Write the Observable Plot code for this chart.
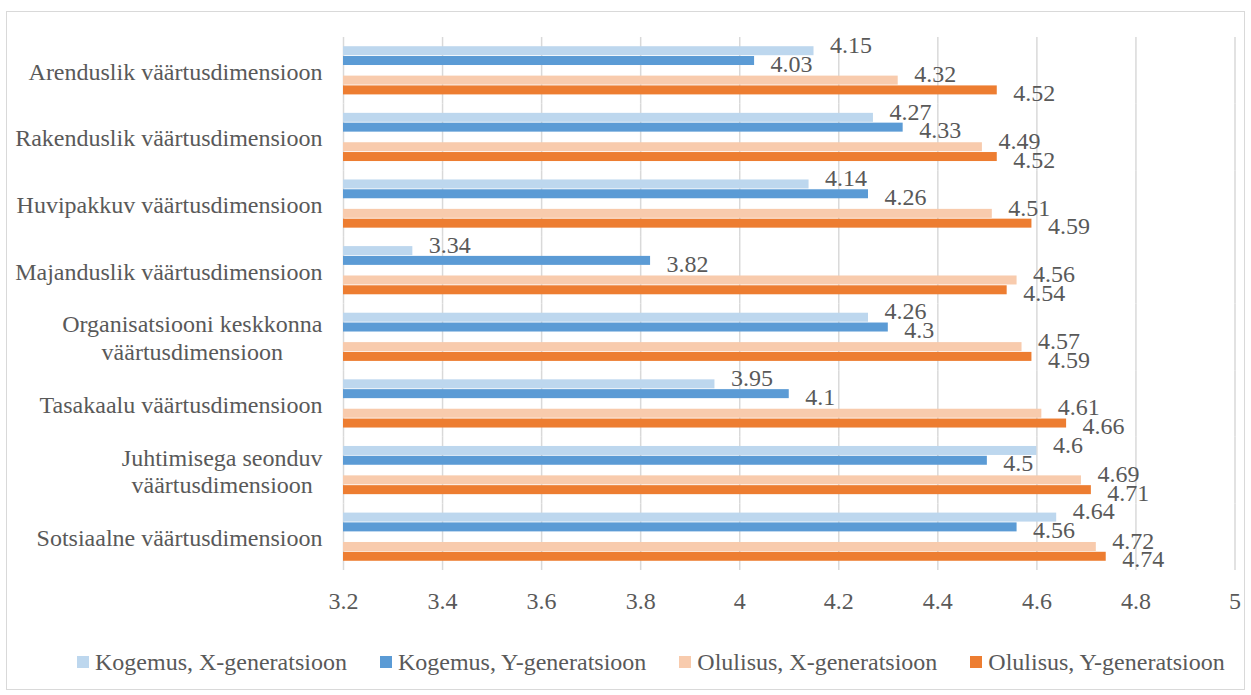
<!DOCTYPE html>
<html>
<head>
<meta charset="utf-8">
<script src="https://cdn.jsdelivr.net/npm/d3@7"></script>
<script src="https://cdn.jsdelivr.net/npm/@observablehq/plot@0.6"></script>
<style>
  html, body { margin: 0; padding: 0; background: #ffffff; }
  body { width: 1251px; height: 695px; position: relative; overflow: hidden;
         font-family: "Liberation Serif", "Times New Roman", serif; color: #595959; }
  #frame { position: absolute; left: 6px; top: 11px; width: 1239px; height: 679px;
           border: 1px solid #d9d9d9; box-sizing: border-box; }
  #chart { position: absolute; left: 0; top: 0; }
  #legend { position: absolute; left: 77px; top: 648px; display: flex; gap: 33px;
            font-size: 24px; line-height: 28px; white-space: nowrap; }
  .item { display: flex; align-items: center; }
  .swatch { width: 12px; height: 12px; margin-right: 6px; }
</style>
</head>
<body>
<div id="frame"></div>
<div id="chart"></div>
<div id="legend"></div>
<script>
// Value dimensions, top to bottom ("\n" marks a wrapped label)
const categories = [
  "Arenduslik väärtusdimensioon",
  "Rakenduslik väärtusdimensioon",
  "Huvipakkuv väärtusdimensioon",
  "Majanduslik väärtusdimensioon",
  "Organisatsiooni keskkonna\nväärtusdimensioon",
  "Tasakaalu väärtusdimensioon",
  "Juhtimisega seonduv\nväärtusdimensioon",
  "Sotsiaalne väärtusdimensioon"
];

const seriesNames = [
  "Kogemus, X-generatsioon",
  "Kogemus, Y-generatsioon",
  "Olulisus, X-generatsioon",
  "Olulisus, Y-generatsioon"
];

// Mean scores per dimension
const kogemusX  = [4.15, 4.27, 4.14, 3.34, 4.26, 3.95, 4.60, 4.64];
const kogemusY  = [4.03, 4.33, 4.26, 3.82, 4.30, 4.10, 4.50, 4.56];
const olulisusX = [4.32, 4.49, 4.51, 4.56, 4.57, 4.61, 4.69, 4.72];
const olulisusY = [4.52, 4.52, 4.59, 4.54, 4.59, 4.66, 4.71, 4.74];

const xTicks = [3.2, 3.4, 3.6, 3.8, 4, 4.2, 4.4, 4.6, 4.8, 5];

const seriesColors = ["#bdd7ee", "#5b9bd5", "#f8cbad", "#ed7d31"];

// Long table built from the series arrays
const seriesValues = [kogemusX, kogemusY, olulisusX, olulisusY];
const rows = [];
categories.forEach((c, i) => {
  seriesNames.forEach((s, j) => {
    rows.push({category: c, series: s, value: seriesValues[j][i], xGen: j % 2 === 0});
  });
});

const baseline = xTicks[0];
const textColor = "#595959";

const chart = Plot.plot({
  width: 1251,
  height: 620,
  marginLeft: 343,
  marginRight: 16.5,
  marginTop: 37,
  marginBottom: 50,
  style: {
    fontFamily: "'Liberation Serif', 'Times New Roman', serif",
    fontSize: "24px",
    color: textColor,
    background: "transparent",
    overflow: "visible"
  },
  x: {domain: [xTicks[0], xTicks[xTicks.length - 1]], axis: null},
  // an empty slot separates the Kogemus pair from the Olulisus pair
  y: {domain: [seriesNames[0], seriesNames[1], "", seriesNames[2], seriesNames[3]],
      paddingInner: 0, paddingOuter: 0.9, round: false, axis: null},
  fy: {domain: categories, padding: 0, round: false, axis: null},
  color: {domain: seriesNames, range: seriesColors},
  marks: [
    Plot.gridX(xTicks, {stroke: "#d9d9d9", strokeOpacity: 1, strokeWidth: 1.5}),
    Plot.barX(rows, {
      fy: "category", y: "series", x1: () => baseline, x2: "value",
      fill: "series", insetTop: 0.4, insetBottom: 0.4
    }),
    Plot.text(rows.filter(d => d.xGen), {
      fy: "category", y: "series", x: "value", text: d => String(d.value),
      textAnchor: "start", dx: 16, dy: -6, fill: textColor, fontSize: 24
    }),
    Plot.text(rows.filter(d => !d.xGen), {
      fy: "category", y: "series", x: "value", text: d => String(d.value),
      textAnchor: "start", dx: 16, dy: 3, fill: textColor, fontSize: 24
    }),
    Plot.axisX(xTicks, {
      tickSize: 0, tickPadding: 21, fontSize: 24, fill: textColor,
      tickFormat: d => String(d), label: null
    }),
    Plot.axisFy({
      anchor: "left", tickSize: 0, tickPadding: 21, fontSize: 24, fill: textColor,
      lineHeight: 1.15, label: null
    })
  ]
});

document.getElementById("chart").appendChild(chart);

// Wrapped category labels: centre their lines within the right-aligned block
chart.querySelectorAll('g[aria-label="fy-axis tick label"] text').forEach(t => {
  const spans = t.querySelectorAll("tspan");
  if (spans.length > 1) {
    const w = t.getBBox().width;
    t.setAttribute("text-anchor", "middle");
    spans.forEach(s => s.setAttribute("x", -w / 2));
  }
});

// Legend
const legend = document.getElementById("legend");
seriesNames.forEach((s, i) => {
  const item = document.createElement("div");
  item.className = "item";
  const sw = document.createElement("span");
  sw.className = "swatch";
  sw.style.background = seriesColors[i];
  const label = document.createElement("span");
  label.textContent = s;
  item.appendChild(sw);
  item.appendChild(label);
  legend.appendChild(item);
});
</script>
</body>
</html>
